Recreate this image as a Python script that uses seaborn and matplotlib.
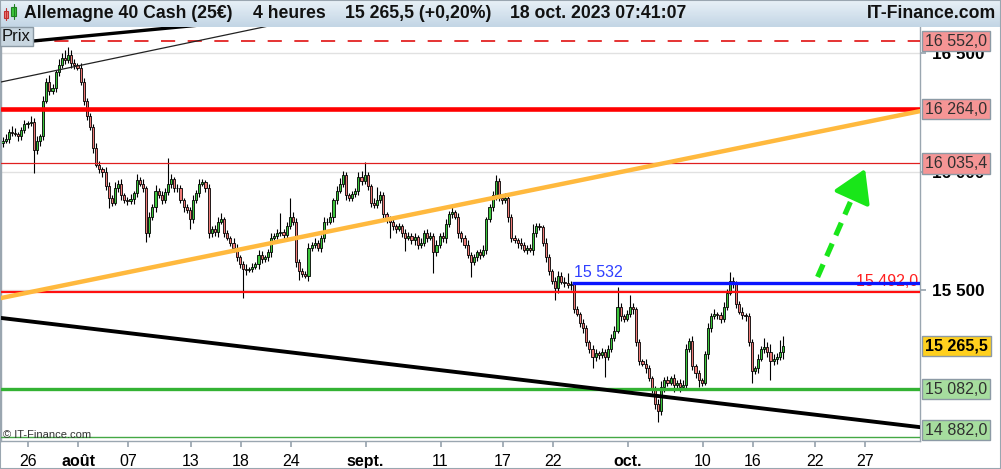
import numpy as np
import matplotlib
matplotlib.use("Agg")
import matplotlib.pyplot as plt
import seaborn as sns
from matplotlib.colors import LinearSegmentedColormap
from matplotlib.patches import Rectangle

# Allemagne 40 Cash, bougies 4 heures (24 juil. -> 18 oct. 2023)
first_open = 16120
closes = [
    16130, 16140, 16170, 16165,
    16160, 16150, 16175, 16200,
    16205, 16210, 16090, 16130,
    16150, 16300, 16380, 16340,
    16355, 16420, 16450, 16480,
    16470, 16495, 16460, 16450,
    16440, 16380, 16300, 16235,
    16190, 16100, 16030, 16010,
    16000, 15940, 15890, 15870,
    15930, 15950, 15900, 15880,
    15875, 15885, 15910, 15965,
    15950, 15930, 15740, 15810,
    15850, 15920, 15900, 15880,
    15915, 15950, 15970, 15930,
    15930, 15880, 15850, 15840,
    15800, 15880, 15910, 15950,
    15955, 15930, 15740, 15760,
    15745, 15790, 15800, 15740,
    15720, 15700, 15680, 15640,
    15610, 15590, 15585, 15590,
    15600, 15610, 15650, 15630,
    15640, 15660, 15720, 15730,
    15740, 15745, 15735, 15770,
    15810, 15790, 15620, 15580,
    15570, 15560, 15680, 15690,
    15700, 15680, 15720, 15790,
    15790, 15810, 15880, 15920,
    15950, 15985, 15900, 15890,
    15905, 15920, 15980, 15960,
    15985, 15940, 15870, 15860,
    15880, 15900, 15820, 15800,
    15790, 15770, 15760, 15770,
    15740, 15720, 15730, 15710,
    15725, 15690, 15700, 15740,
    15720, 15730, 15660, 15690,
    15730, 15720, 15780, 15820,
    15830, 15810, 15740, 15720,
    15690, 15650, 15620, 15640,
    15660, 15650, 15670, 15800,
    15850, 15900, 15960, 15890,
    15880, 15890, 15810, 15720,
    15710, 15700, 15690, 15670,
    15680, 15670, 15740, 15770,
    15765, 15700, 15640, 15580,
    15540, 15510, 15560, 15535,
    15530, 15520, 15525, 15420,
    15400, 15360, 15340, 15280,
    15250, 15220, 15235, 15225,
    15240, 15220, 15250, 15300,
    15330, 15430, 15390, 15380,
    15400, 15430, 15420, 15280,
    15200, 15190, 15170, 15130,
    15080, 15020, 14990, 15090,
    15120, 15110, 15130, 15100,
    15110, 15090, 15100, 15250,
    15285, 15180, 15150, 15120,
    15110, 15230, 15340, 15390,
    15400, 15395, 15380, 15430,
    15490, 15540, 15530, 15440,
    15410, 15395, 15390, 15280,
    15160, 15170, 15210, 15250,
    15260, 15240, 15200, 15210,
    15220, 15240, 15265.5,
]

# meches hautes / basses (points au-dela du corps)
up_wick = [
    15, 20, 10, 25,   20, 10, 15, 20,   10, 25, 15, 20,   10, 20, 15, 30,
    15, 10, 25, 20,   36, 30, 20, 15,   10, 20, 15, 10,   15, 10, 20, 15,
    10, 20, 15, 10,   25, 15, 20, 10,   15, 20, 10, 25,   15, 20, 10, 20,
    15, 25, 10, 20,   15, 110, 20, 10,  20, 15, 10, 15,   10, 20, 15, 20,
    15, 10, 20, 10,   15, 20, 25, 10,   15, 10, 20, 15,   10, 15, 20, 10,
    15, 10, 20, 15,   10, 15, 20, 10,   20, 80, 15, 20,   80, 20, 15, 10,
    15, 10, 20, 15,   20, 10, 15, 20,   15, 20, 10, 20,   25, 20, 15, 10,
    15, 10, 20, 25,   56, 15, 10, 20,   57, 20, 15, 10,   15, 20, 10, 15,
    10, 20, 15, 10,   15, 10, 20, 15,   20, 15, 10, 20,   10, 15, 20, 15,
    20, 10, 15, 10,   15, 20, 10, 15,   10, 15, 20, 10,   15, 20, 26, 15,
    10, 20, 15, 10,   15, 10, 20, 15,   10, 15, 40, 15,   15, 10, 20, 15,
    10, 15, 20, 15,   20, 43, 15, 10,   15, 10, 20, 15,   10, 20, 15, 10,
    15, 10, 20, 15,   20, 84, 15, 10,   15, 50, 15, 10,   15, 10, 20, 15,
    10, 15, 20, 25,   15, 20, 10, 15,   10, 15, 20, 25,   15, 20, 10, 15,
    10, 15, 20, 15,   20, 10, 15, 20,   15, 37, 15, 10,   15, 20, 10, 15,
    15, 10, 20, 15,   40, 20, 35, 20,   15, 50, 40,
]
down_wick = [
    15, 10, 20, 15,   10, 20, 15, 10,   15, 10, 95, 15,   20, 15, 10, 15,
    10, 20, 15, 10,   15, 10, 20, 15,   10, 15, 20, 15,   15, 20, 10, 15,
    20, 15, 43, 15,   10, 15, 20, 10,   15, 10, 20, 15,   10, 15, 36, 15,
    15, 20, 10, 15,   10, 15, 20, 15,   15, 10, 20, 15,   40, 15, 10, 15,
    10, 15, 20, 15,   15, 20, 10, 15,   10, 15, 20, 15,   15, 123, 20, 10,
    15, 10, 20, 15,   10, 15, 20, 10,   15, 10, 20, 15,   10, 15, 20, 37,
    15, 10, 20, 15,   10, 15, 20, 15,   15, 10, 20, 15,   10, 15, 20, 15,
    15, 10, 20, 15,   10, 15, 20, 15,   15, 10, 20, 15,   70, 15, 20, 10,
    15, 53, 10, 15,   20, 15, 10, 15,   15, 10, 87, 15,   10, 15, 20, 15,
    15, 10, 20, 15,   10, 15, 64, 15,   15, 20, 10, 15,   10, 15, 20, 15,
    15, 10, 20, 15,   10, 20, 15, 10,   15, 10, 20, 15,   10, 15, 20, 15,
    15, 51, 20, 10,   15, 10, 20, 15,   10, 15, 20, 15,   15, 48, 20, 15,
    10, 86, 15, 10,   15, 10, 20, 15,   10, 15, 20, 15,   15, 10, 20, 15,
    15, 20, 46, 15,   20, 15, 10, 30,   15, 20, 10, 15,   10, 15, 20, 30,
    15, 10, 20, 15,   10, 15, 20, 15,   15, 10, 20, 15,   10, 15, 20, 15,
    52, 15, 20, 10,   15, 20, 80, 15,   20, 15, 30,
]

# axe du temps (jours de bourse depuis le 24 juillet)
tick_labels = ["26", "août", "07", "13", "18", "24", "sept.", "11", "17",
               "22", "oct.", "10", "16", "22", "27"]
tick_days = [2, 6, 10, 15, 19, 23, 29, 35, 40, 44, 50, 56, 60, 65, 69]
month_labels = ["août", "sept.", "oct."]

# niveaux horizontaux
level_dash = 16552.0
level_top = 16264.0
level_mid = 16035.4
level_red = 15492.0
level_blue = 15532.0
level_green = 15082.0
level_low = 14882.0
last_price = 15265.5

# droites obliques (jour, prix)
trend_down = ([0, 73.6], [15383, 14922])
trend_orange = ([0, 73.6], [15467, 16256])
trend_thin = ([0, 21.4], [16379, 16615])
trend_thick = ([0, 20.0], [16539, 16640])
arrow_start = (65.4, 15556)
arrow_base = (68.55, 15936)
arrow_tip = (69.2, 16012)

# ---------------------------------------------------------------
sns.set_theme(style="white")
plt.rcParams["font.family"] = ["Liberation Sans", "DejaVu Sans"]

W, H = 1001, 469
fig = plt.figure(figsize=(W / 100, H / 100), dpi=100)
fig.patch.set_facecolor("white")

ax = fig.add_axes([1 / W, 28 / H, 919 / W, 414 / H])
ax.set_facecolor("white")
ax.set_xlim(0, 73.6)
ax.set_ylim(14863.6, 16611.1)

closes_a = np.array(closes, dtype=float)
opens_a = np.r_[first_open, closes_a[:-1]]
highs = np.maximum(opens_a, closes_a) + np.array(up_wick)
lows = np.minimum(opens_a, closes_a) - np.array(down_wick)
xs = np.arange(len(closes_a)) / 4 + 0.125
colors = np.where(closes_a >= opens_a, "#3cc63c", "#ef7b78")

# grille
for g in [15500, 16000, 16500]:
    ax.axhline(g, color="#e1e1e1", lw=1, zorder=0)

# bougies
ax.vlines(xs, lows, highs, color="black", lw=0.8, zorder=2)
ax.bar(xs, closes_a - opens_a, bottom=opens_a, width=0.17, color=colors,
       edgecolor="black", linewidth=0.6, zorder=2.1)

# niveaux
ax.axhline(level_dash, color="#e01010", lw=1.2, ls=(0, (8.5, 7.5)), zorder=3)
ax.axhline(level_top, color="#ff0000", lw=3.3, zorder=3)
ax.axhline(level_mid, color="#e02020", lw=0.9, zorder=3)
ax.axhline(level_red, color="#ff1010", lw=1.6, zorder=3)
ax.axhline(level_green, color="#33b233", lw=2.4, zorder=3)
ax.axhline(level_low, color="#44a844", lw=1.0, zorder=3)
ax.hlines(level_blue, 45.7, 73.6, color="#0a14ff", lw=2.4, zorder=3.2)
ax.text(45.85, level_blue + 10, "15 532", color="#3040ff", fontsize=11.5,
        va="bottom", ha="left", zorder=3.3)
ax.text(73.45, level_red + 12, "15 492,0", color="#ff2020", fontsize=11.5,
        va="bottom", ha="right", zorder=3.1)

# obliques
sns.lineplot(x=trend_down[0], y=trend_down[1], ax=ax, color="black", lw=2.8,
             estimator=None, zorder=3)
sns.lineplot(x=trend_orange[0], y=trend_orange[1], ax=ax, color="#ffb93e",
             lw=3.2, estimator=None, zorder=3)
sns.lineplot(x=trend_thin[0], y=trend_thin[1], ax=ax, color="#222222", lw=0.9,
             estimator=None, zorder=3)
sns.lineplot(x=trend_thick[0], y=trend_thick[1], ax=ax, color="black", lw=2.4,
             estimator=None, zorder=3)

# fleche verte pointillee
ax.plot([arrow_start[0], arrow_base[0]], [arrow_start[1], arrow_base[1]],
        color="#19e619", lw=3.8, ls=(0, (2.6, 1.7)), solid_capstyle="butt",
        zorder=4)
ax.annotate("", xy=arrow_tip, xytext=arrow_base,
            arrowprops=dict(arrowstyle="-|>,head_length=0.9,head_width=0.55",
                            color="#19e619", lw=3, mutation_scale=22,
                            shrinkA=0, shrinkB=0), zorder=4)

# axes
for s in ["left", "bottom", "right"]:
    ax.spines[s].set_color("#9aa6b0")
    ax.spines[s].set_linewidth(1)
ax.spines["top"].set_visible(False)

ax.set_xticks([d + 0.2 for d in tick_days])
ax.set_xticklabels(tick_labels, fontsize=11.5, color="black")
for lab in ax.get_xticklabels():
    if lab.get_text() in month_labels:
        lab.set_fontweight("bold")
ax.tick_params(axis="x", direction="out", length=4, color="#9aa6b0", pad=5,
               bottom=True)

ax.yaxis.tick_right()
ax.set_yticks([15500, 16000, 16500])
ax.set_yticklabels(["15 500", "16 000", "16 500"], fontsize=12.3,
                   fontweight="bold", color="black")
ax.tick_params(axis="y", direction="out", length=4, color="#9aa6b0", pad=5,
               right=True)


def fr(v):
    return f"{v:,.1f}".replace(",", " ").replace(".", ",")


box_specs = [
    (level_dash, "#f59595", "normal"),
    (level_top, "#f59595", "normal"),
    (level_mid, "#f59595", "normal"),
    (last_price, "#ffd01e", "bold"),
    (level_green, "#a6dd9e", "normal"),
    (level_low, "#a6dd9e", "normal"),
]
for v, fc, fw in box_specs:
    ypos = max(v, 14909)
    ax.text(1.0055, ypos, fr(v), transform=ax.get_yaxis_transform(),
            ha="left", va="center", fontsize=11.5, fontweight=fw,
            color="black" if fw == "bold" else "#303030", clip_on=False,
            zorder=5,
            bbox=dict(boxstyle="square,pad=0.17", fc=fc, ec="#8c9aa5", lw=1))

# bandeau du haut
hax = fig.add_axes([0, 1 - 27 / H, 1, 27 / H])
hax.imshow(np.linspace(0, 1, 27)[:, None],
           cmap=LinearSegmentedColormap.from_list("h", ["#e8f0f7", "#c3d6e5"]),
           aspect="auto", extent=[0, W, 27, 0])
hax.set_xlim(0, W)
hax.set_ylim(27, 0)
hax.axis("off")
hax.add_patch(Rectangle((4, 11), 4, 7, fc="#ef7b78", ec="#c03030", lw=0.8))
hax.plot([6, 6], [8, 20], color="#c03030", lw=0.8)
hax.add_patch(Rectangle((11, 7), 5, 9, fc="#3cc63c", ec="#208020", lw=0.8))
hax.plot([13.5, 13.5], [4, 19], color="#208020", lw=0.8)

header_parts = [("Allemagne 40 Cash (25€)", 24), ("4 heures", 253),
                ("15 265,5 (+0,20%)", 345), ("18 oct. 2023 07:41:07", 510)]
for txt, px in header_parts:
    hax.text(px, 14, txt, fontsize=12.7, fontweight="bold", va="center",
             ha="left", color="#111111")
hax.text(996, 14, "IT-Finance.com", fontsize=12.7, fontweight="bold",
         va="center", ha="right", color="#111111")

fig.text(2 / W, 1 - 36.5 / H, "Prix", fontsize=12, va="center", ha="left",
         color="#111111", zorder=6,
         bbox=dict(boxstyle="square,pad=0.12", fc="#c8d6e0", ec="#8c9aa5",
                   lw=1))
fig.text(3 / W, 1 - 435 / H, "© IT-Finance.com", fontsize=8, va="center",
         ha="left", color="#333333", zorder=6)

fig.patches.append(Rectangle((0, 0), 1, 1, transform=fig.transFigure,
                             fill=False, ec="#9aa6b0", lw=1.5))

fig.savefig("out.png", dpi=100)
